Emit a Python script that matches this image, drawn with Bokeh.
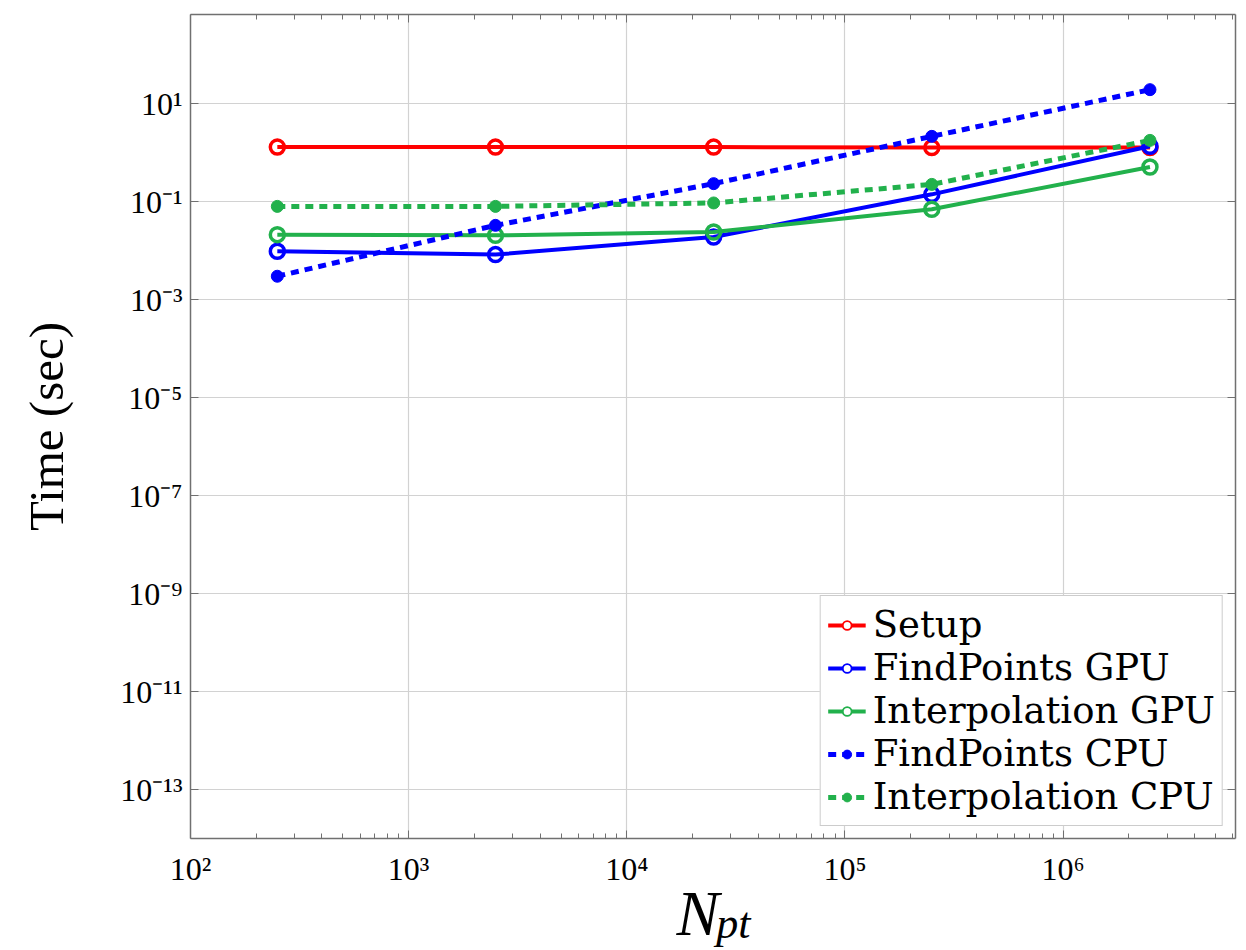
import numpy as np
from bokeh.plotting import figure
from bokeh.layouts import column
from bokeh.models import (LogAxis, FixedTicker, CustomJSTickFormatter, Legend,
                          LegendItem, Range1d)
from bokeh.embed import file_html
from bokeh.resources import INLINE
from bokeh.core.properties import value

# ---------------- data ----------------
n_pt = [250, 2500, 25000, 250000, 2500000]
setup = [1.30, 1.30, 1.30, 1.27, 1.27]
findpoints_gpu = [0.0097, 0.0083, 0.019, 0.141, 1.35]
interp_gpu = [0.0212, 0.0205, 0.024, 0.070, 0.51]
findpoints_cpu = [0.0030, 0.0328, 0.233, 2.15, 19.3]
interp_cpu = [0.080, 0.080, 0.094, 0.225, 1.78]

series_names = ["Setup", "FindPoints GPU", "Interpolation GPU",
                "FindPoints CPU", "Interpolation CPU"]

xtick_values = [1e2, 1e3, 1e4, 1e5, 1e6]
xtick_labels = ["10²", "10³", "10⁴", "10⁵", "10⁶"]
ytick_values = [1e1, 1e-1, 1e-3, 1e-5, 1e-7, 1e-9, 1e-11, 1e-13]
ytick_labels = ["10¹", "10⁻¹", "10⁻³", "10⁻⁵", "10⁻⁷", "10⁻⁹", "10⁻¹¹", "10⁻¹³"]
xminor_values = [m * 10.0 ** e for e in range(2, 7) for m in range(2, 10)]

x_label_main = "N"
x_label_sub = "pt"
y_label = "Time (sec)"

# ---------------- style ----------------
RED = "#ff0000"
BLUE = "#0000ff"
GREEN = "#22b14c"
FONT = "Liberation Serif"
LEGEND_FONT = "DejaVu Serif"
AXC = "#707070"
W = 1240

p = figure(width=W, height=890, x_axis_type="log", y_axis_type="log",
           x_range=Range1d(100, 10 ** 6.79), y_range=Range1d(1e-14, 10 ** 2.82),
           output_backend="svg", toolbar_location=None, title=None,
           min_border_left=190, min_border_right=5, min_border_top=14,
           min_border_bottom=52)
p.outline_line_color = None
p.background_fill_color = "white"
p.border_fill_color = "white"

fmt_code = """
let best = 0, bd = 1e9;
for (let i = 0; i < vals.length; i++) {
  const d = Math.abs(Math.log10(tick) - Math.log10(vals[i]));
  if (d < bd) { bd = d; best = i; }
}
return bd < 1e-6 ? labs[best] : "";
"""
xfmt = CustomJSTickFormatter(args=dict(vals=xtick_values, labs=xtick_labels), code=fmt_code)
yfmt = CustomJSTickFormatter(args=dict(vals=ytick_values, labs=ytick_labels), code=fmt_code)

def style_axis(ax, ticker, fmt, show_labels):
    ax.ticker = ticker
    ax.axis_line_color = AXC
    ax.axis_line_width = 1.5
    ax.major_tick_line_color = AXC
    ax.minor_tick_line_color = AXC
    ax.major_tick_in = 8
    ax.major_tick_out = 0
    ax.minor_tick_in = 5
    ax.minor_tick_out = 0
    ax.major_tick_line_width = 1
    ax.minor_tick_line_width = 1
    if show_labels:
        ax.formatter = fmt
        ax.major_label_text_font = FONT
        ax.major_label_text_font_size = "32px"
        ax.major_label_text_color = "black"
    else:
        ax.formatter = CustomJSTickFormatter(code="return ''")
        ax.major_label_standoff = 0

xticker = FixedTicker(ticks=xtick_values, minor_ticks=xminor_values)
yticker = FixedTicker(ticks=ytick_values, minor_ticks=[])

style_axis(p.xaxis[0], xticker, xfmt, True)
style_axis(p.yaxis[0], yticker, yfmt, True)
p.xaxis[0].major_label_standoff = 12
p.yaxis[0].major_label_standoff = 8
p.yaxis[0].axis_label = y_label
p.yaxis[0].axis_label_text_font = FONT
p.yaxis[0].axis_label_text_font_size = "49px"
p.yaxis[0].axis_label_text_font_style = "normal"
p.yaxis[0].axis_label_text_color = "black"
p.yaxis[0].axis_label_standoff = 43

top = LogAxis()
right = LogAxis()
style_axis(top, FixedTicker(ticks=xtick_values, minor_ticks=xminor_values), None, False)
style_axis(right, FixedTicker(ticks=ytick_values, minor_ticks=[]), None, False)
p.add_layout(top, "above")
p.add_layout(right, "right")

p.xgrid.ticker = FixedTicker(ticks=xtick_values)
p.ygrid.ticker = FixedTicker(ticks=ytick_values)
p.xgrid.grid_line_color = "#d2d2d2"
p.ygrid.grid_line_color = "#d2d2d2"
p.xgrid.grid_line_width = 1.2
p.ygrid.grid_line_width = 1.2

series = [setup, findpoints_gpu, interp_gpu, findpoints_cpu, interp_cpu]
colors = [RED, BLUE, GREEN, BLUE, GREEN]
dashed = [False, False, False, True, True]

nan = [float("nan")]
items = []
for name, ys, c, d in zip(series_names, series, colors, dashed):
    if d:
        lr = p.line(n_pt, ys, line_color=c, line_width=5, line_dash="8 6")
        p.scatter(n_pt, ys, marker="circle", size=12, fill_color=c,
                  line_color=c, line_width=1)
        # legend-only marker (no data drawn)
        lg = p.scatter(nan, nan, marker="circle", fill_color=c, line_color=c,
                       line_width=1)
    else:
        lr = p.line(n_pt, ys, line_color=c, line_width=4)
        p.scatter(n_pt, ys, marker="circle", size=14, fill_color=None,
                  line_color=c, line_width=3.5)
        lg = p.scatter(nan, nan, marker="circle", fill_color="white",
                       line_color=c, line_width=1.8)
    items.append(LegendItem(label=name, renderers=[lr, lg]))

legend = Legend(items=items, location="bottom_right")
legend.label_text_font = LEGEND_FONT
legend.label_text_font_size = "37px"
legend.label_text_color = "black"
legend.glyph_width = 38
legend.glyph_height = 22
legend.label_height = 34
legend.spacing = 0
legend.padding = 7
legend.margin = 12
legend.label_standoff = 7
legend.border_line_color = "#999999"
legend.border_line_width = 1.5
legend.background_fill_color = "white"
legend.background_fill_alpha = 1.0
p.add_layout(legend, "center")

# x axis label strip: N with subscript pt (shares the x scale of the chart);
# it is pulled up over the empty lower border of the chart and is transparent
p2 = figure(width=W, height=80, x_axis_type="log", x_range=p.x_range,
            y_range=Range1d(0, 80), output_backend="svg",
            toolbar_location=None, title=None, min_border=0,
            min_border_left=190, min_border_right=5, margin=(-20, 0, 0, 0))
p2.axis.visible = False
p2.grid.visible = False
p2.outline_line_color = None
p2.background_fill_alpha = 0
p2.border_fill_alpha = 0
p2.text(x=[10 ** 4.228], y=[37], text=[x_label_main], text_font=value(FONT),
        text_font_size="64px", text_font_style="italic",
        text_baseline="alphabetic", text_align="left", text_color="black")
p2.text(x=[10 ** 4.41], y=[27], text=[x_label_sub], text_font=value(FONT),
        text_font_size="44px", text_font_style="italic",
        text_baseline="alphabetic", text_align="left", text_color="black")

layout = column(p, p2, spacing=0)
open("out.html", "w").write(file_html(layout, INLINE))
